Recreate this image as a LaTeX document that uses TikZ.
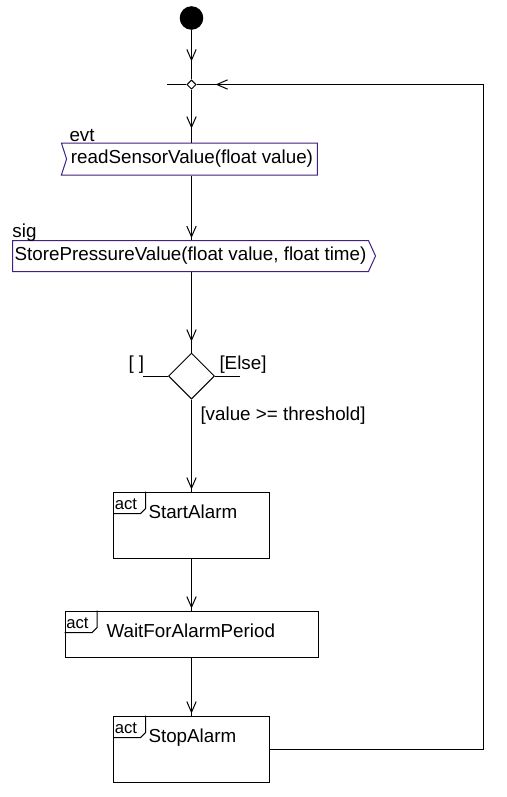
\documentclass[tikz,border=0pt]{standalone}
\usepackage{fontspec}
\setmainfont{Liberation Sans}
\usetikzlibrary{arrows.meta}
\usetikzlibrary{shapes.geometric}
\usetikzlibrary{shapes.symbols}
\usetikzlibrary{decorations.markings}

\definecolor{sigline}{RGB}{64,32,128}
\newcommand{\diafont}{\fontsize{14.1pt}{16.5pt}\selectfont}
\newcommand{\tagfont}{\fontsize{12.5pt}{14pt}\selectfont}

\tikzset{
  flow/.style={draw, postaction={decorate},
    decoration={markings, mark=at position #1 with {\arrow{Straight Barb[length=8pt,width=7pt]}}}},
  flow/.default=-1.5pt,
  startdot/.style={circle, draw, fill=black, minimum size=16.9pt, inner sep=0pt},
  mergenode/.style={diamond, draw, fill=white, minimum width=7pt, minimum height=7pt, inner sep=0pt},
  decision/.style={diamond, draw, minimum width=34.5pt, minimum height=34.5pt, inner sep=0pt},
  evtbox/.style={signal, signal from=west, signal to=nowhere, signal pointer angle=144,
    draw=sigline, inner sep=0pt, font=\diafont},
  sigbox/.style={signal, signal to=east, signal from=nowhere, signal pointer angle=131,
    draw=sigline, inner sep=0pt, font=\diafont},
  actbox/.style={rectangle, draw, inner sep=0pt},
  acttag/.style={rectangle, anchor=north west, inner xsep=1pt, inner ysep=1.5pt,
    text width=21.75pt, text height=11.5pt, text depth=1.25pt, align=left, font=\tagfont},
  txt/.style={anchor=base west, inner sep=0pt, font=\diafont}
}

\begin{document}
\begin{tikzpicture}[x=0.75pt, y=-0.75pt, line width=0.75pt]
  \useasboundingbox (0,0) rectangle (507,797);

  % initial and merge
  \node [startdot] (init) at (191.5,18) {};
  \node [mergenode] (merge) at (191.5,84.5) {};
  \coordinate (mergestub) at (167,84.5);
  \coordinate (looptop) at (483,84.5);

  % event and signal
  \node [evtbox, minimum width=192pt, minimum height=24pt] (evt) at (192,159) {readSensorValue(float value)};
  \node [txt] (evtlab) at (69,141) {evt};
  \node [sigbox, minimum width=272.25pt, minimum height=23.25pt] (sig) at (190.5,256) {StorePressureValue(float value, float time)};
  \node [txt] (siglab) at (12,237) {sig};

  % decision
  \node [decision] (dec) at (191.5,376) {};
  \coordinate (decleft) at (143,376);
  \coordinate (decright) at (240,376);
  \node [txt] (gnone) at (128,369) {[ ]};
  \node [txt] (gelse) at (219,369) {[Else]};
  \node [txt] (gval) at (200,420) {[value >= threshold]};

  % actions
  \node [actbox, minimum width=117pt, minimum height=49.5pt] (start) at (191.5,525) {};
  \node [acttag] (starttag) at (start.north west) {act};
  \node [txt] (startname) at (148,518) {StartAlarm};

  \node [actbox, minimum width=189.75pt, minimum height=34.5pt] (wait) at (191.5,634) {};
  \node [acttag] (waittag) at (wait.north west) {act};
  \node [txt] (waitname) at (106,637) {WaitForAlarmPeriod};

  \node [actbox, minimum width=117pt, minimum height=49.5pt] (stop) at (191.5,749) {};
  \node [acttag] (stoptag) at (stop.north west) {act};
  \node [txt] (stopname) at (148,742) {StopAlarm};

  \foreach \a in {start,wait,stop}
    \draw (\a tag.north east) -- ([yshift=3.75pt]\a tag.south east)
      -- ([xshift=-3.75pt]\a tag.south east) -- (\a tag.south west);

  % flows
  \path [flow=-13.5pt] (init) -- (merge);
  \draw (mergestub) -- (merge.west);
  \path [flow=-10.5pt] (merge) -- (evt.north -| merge);
  \path [flow] (evt.south -| merge) -- (sig.north -| merge);
  \path [flow=-8.25pt] (sig.south -| merge) -- (dec);
  \draw (decleft) -- (dec.west);
  \draw (dec.east) -- (decright);
  \path [flow] (dec) -- (start);
  \path [flow] (start) -- (wait);
  \path [flow] (wait) -- (stop);
  \path [flow=-14.25pt] (stop.east) -| (looptop) -- (merge.east);
\end{tikzpicture}
\end{document}
